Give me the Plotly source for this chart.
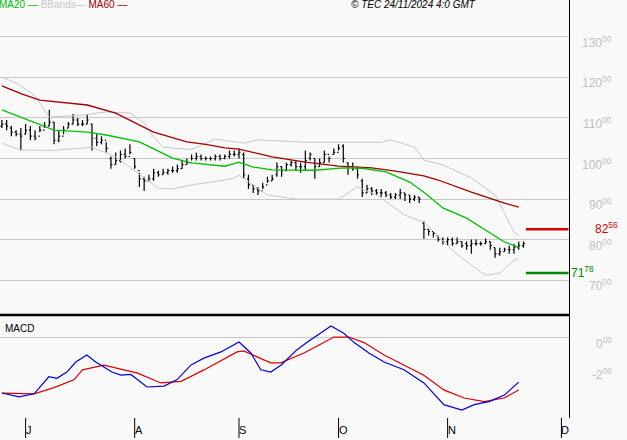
import plotly.graph_objects as go

opens = [108,108.5,107.5,106.5,106,106,107,105.5,105.5,107,
108,109,104.5,105.5,107.5,108.5,109.5,108.5,108.5,108.5,
105,104,104.5,100,98.5,99.5,101,100.5,100,97,
95,94.5,95,96.5,96,96.5,97,97,97.5,98.5,
99,100,100.5,100,100,100,100.5,100,100.5,101,
101,101,95,93.5,92.5,92,93.5,94.5,96,98,
97,98.5,99,98,98,100,100,98,99,101,
101,101.5,103,99,98,97.5,94.5,91.5,92.5,92,
91.5,91.5,91,90.5,91,91.5,91,90,90.5,84,
82.5,82,81,80,79.5,80,79,79.5,79,78.5,
79,79,79,79.5,78,76.5,77,77.5,77.5,78,78.5]
highs = [109.5,109.5,108,107,107.5,108.5,108,107,108,109,
112,109,107,108,109,111,110,109.5,111,108.5,
106,105.5,104,100.5,101.5,102,102.5,103.5,100,96.5,
95.5,96,97.5,97,97.5,97.5,98,98.5,99.5,100,
101,101.5,101,100.5,100.5,101,101,101,102,102,
102.5,101.5,96,93.5,93,94,95.5,96,99,98,
99,99.5,99.5,99,102,101.5,100,100,102,100.5,
102.5,103.5,103.5,99,99,98,95,93.5,93,92.5,
92.5,92,91.5,91.5,92.5,91.5,91,91,90.5,84.5,
82.5,82,81,80.5,80.5,80.5,80.5,79.5,79.5,80,
80,79.5,80.3,79.5,78,78,78,78.5,79,79.5,79.5]
lows = [107.5,107,105.5,105.5,102,106,104.5,104.5,106.5,107.5,
108,103.5,104,106,107.5,108.5,108,108,108.5,102,
103,103.5,101.5,97.5,98.5,99,100,101,97.5,93,
92,94.5,94.5,95.5,96,96,96.5,96.5,97.5,98.5,
99.5,99.5,99.5,99.5,99.5,99.5,99.5,99.8,100,100.5,
100,95,92.5,91.5,91,92.5,94,94.5,95.5,95.5,
97,98,97,96.5,97,99.5,95,98,99,99,
101,102,99,96,97,95,90.5,91.5,91,91,
90.5,90.5,90,90,90,89.5,89,89.5,89,80.2,
81,80.5,79.5,78.8,78.5,78.5,79,78,77.5,76.5,
78.5,78.5,79,77.5,75.5,76,77,76.5,76.5,77.5,78]
closes = [108.5,108,106.5,106,105.5,107,105.5,105,107,108,
109,104.5,105.5,107,108.5,109.5,108.5,108.5,109.5,105,
104,104.5,102.5,98.5,99.5,101,100.5,101.5,98,95,
94.5,95,96.5,96,96.5,97,97,97.5,98.5,99,
100,100.5,100,100,100,100.5,100,100.5,101,101,
101.5,96,93.5,92.5,92,93,94.5,95,98,97,
98.5,99,98,98,99.5,101,98,99,101,100,
101.5,102.5,100,98,97.5,96,91.5,92.5,92,91.5,
91.5,91,90.5,91,91.5,91,90,90.5,90,82.5,
82,81.5,80,79.5,80,79,79.5,78.5,78.5,79,
79,79,79.5,78.5,76.5,77,77.5,77.5,78,78.5,79]
days = list(range(len(closes)))

ma20_x = [0,8,11,18,22,29,36,40,47,50,53,57,66,72,76,81,86,89,93,98,102,106,109]
ma20_y = [112,108.3,107,106.5,105.8,104.1,100.1,98.9,98.1,99.1,97.9,97.2,97.1,97.7,97.6,96.7,94.2,91.7,87.8,85.3,82.3,79.4,78.1]
ma60_x = [0,4,8,18,24,32,39,43,47,50,57,64,71,78,83,89,92,99,106,109]
ma60_y = [117.9,116,114.4,113.2,111.2,106.5,104.1,103.5,102.6,102.3,100.4,99.1,98.1,97.7,96.9,95.7,94.7,91.7,89,88]
bbu_x = [0,3,7,10,17,22,27,30,32,34,40,45,51,54,64,73,80,82,87,89,93,99,104,106,108,109]
bbu_y = [120.1,118.6,115.5,110.2,110.7,111.5,111.2,108.8,105.3,102.8,102.2,104.8,103.8,104.6,104,104,104,104.6,102.8,99.6,98.4,95.2,91,86.5,81.8,81]
bbl_x = [0,4,11,19,24,30,33,36,40,47,49,50,56,62,71,75,79,85,89,95,99,102,105,108,109]
bbl_y = [103.8,102.1,102,102.8,100.4,95.4,92.7,92.5,93.5,94.7,95.2,95.9,91,90,90,93,91,86,84.3,77.4,73.7,71.2,71.7,74.9,75.4]
macd_x = [0,3.6,6.8,9.9,11.6,13.7,15.6,17.9,19.8,23.2,25.1,27.2,30.6,34.2,36.9,39.9,42.6,46.2,50,52.5,54.6,56.7,58.9,62.2,64.3,67.3,69.4,72.1,74.3,77.4,80.6,84.8,89,93.2,97,99.6,102.7,105.9,109]
macd_y = [-3.55,-3.8,-3.6,-2.5,-2.6,-2.2,-1.55,-1.1,-1.55,-2.2,-2.4,-2.35,-3.16,-3.1,-2.7,-1.74,-1.3,-0.9,-0.26,-0.97,-2.05,-2.2,-1.74,-0.77,-0.3,0.32,0.77,0.3,-0.3,-0.97,-1.55,-2.05,-2.9,-4.3,-4.65,-4.3,-4.1,-3.7,-2.85]
sig_x = [0,6.8,11,15.2,17,21.5,25.7,28.5,33.5,37.8,42.6,49.6,51,56.7,58.8,63.7,66.9,70,73.2,76.4,80.6,84.8,89,93.2,97.5,101.7,105.9,109]
sig_y = [-3.55,-3.6,-3.2,-2.7,-2.06,-1.75,-2.06,-2.25,-2.9,-2.8,-2.06,-0.9,-0.84,-1.6,-1.6,-0.97,-0.45,0.06,0.06,-0.3,-1.1,-1.75,-2.4,-3.35,-3.87,-4.1,-3.87,-3.35]

month_ticks = [5, 28, 50, 71, 94, 118]
month_labels = ["J", "A", "S", "O", "N", "D"]
price_ticks = [70, 80, 90, 100, 110, 120, 130]
macd_ticks = [0, -2]
level_hi = 82.56
level_lo = 71.78

XR = [-0.4, 119.6]
fig = go.Figure()
fig.add_trace(go.Scatter(x=bbu_x, y=bbu_y, mode="lines", line=dict(color="#c8c8c8", width=1), yaxis="y"))
fig.add_trace(go.Scatter(x=bbl_x, y=bbl_y, mode="lines", line=dict(color="#c8c8c8", width=1), yaxis="y"))
fig.add_trace(go.Scatter(x=ma60_x, y=ma60_y, mode="lines", line=dict(color="#a00000", width=1.3), yaxis="y"))
fig.add_trace(go.Scatter(x=ma20_x, y=ma20_y, mode="lines", line=dict(color="#00c000", width=1.3), yaxis="y"))
fig.add_trace(go.Ohlc(x=days, open=opens, high=highs, low=lows, close=closes, tickwidth=0.3,
                      increasing=dict(line=dict(color="black", width=1.2)),
                      decreasing=dict(line=dict(color="black", width=1.2)), yaxis="y"))
fig.add_trace(go.Scatter(x=[110.5, 119.5], y=[level_hi]*2, mode="lines", line=dict(color="#dd0000", width=2.5)))
fig.add_trace(go.Scatter(x=[110.5, 119.5], y=[level_lo]*2, mode="lines", line=dict(color="#008800", width=2.5)))
fig.add_trace(go.Scatter(x=sig_x, y=sig_y, mode="lines", line=dict(color="#dd0000", width=1.2), yaxis="y2"))
fig.add_trace(go.Scatter(x=macd_x, y=macd_y, mode="lines", line=dict(color="#0000dd", width=1.2), yaxis="y2"))

def fmt(v):
    s = f"{abs(v):.2f}"
    a, b = s.split(".")
    sign = "-" if v < 0 else ""
    return f"{sign}{a}<sup>{b}</sup>"

dom = 103/418
fig.update_layout(
    width=627, height=440, margin=dict(l=0, r=58, t=0, b=22, autoexpand=False),
    paper_bgcolor="#f9f9f9", plot_bgcolor="#f9f9f9", showlegend=False,
    xaxis=dict(range=XR, showgrid=False, zeroline=False, showticklabels=False, ticks="", automargin=False,
               showline=True, linecolor="black", linewidth=1, rangeslider=dict(visible=False)),
    yaxis=dict(domain=[dom, 1], range=[61.4, 139.1], side="right", tickvals=price_ticks, automargin=False,
               showticklabels=False, gridcolor="#c8c8c8", zeroline=False, showline=True,
               linecolor="black", linewidth=1, ticks=""),
    yaxis2=dict(domain=[0, dom], range=[-5.16, 1.48], side="right", tickvals=[0], automargin=False,
                showticklabels=False, gridcolor="#c8c8c8", zeroline=False, showline=True,
                linecolor="black", linewidth=1, ticks="", anchor="x"),
)
shapes = [dict(type="line", xref="paper", yref="paper", x0=0, x1=1, y0=dom, y1=dom,
               line=dict(color="black", width=2.5))]
ann = []
for t, l in zip(month_ticks, month_labels):
    shapes.append(dict(type="line", xref="x", yref="paper", x0=t, x1=t, y0=0, y1=-20/418,
                       line=dict(color="black", width=1)))
    ann.append(dict(x=t, y=-4/418, xref="x", yref="paper", text=l, showarrow=False, xshift=-2,
                    xanchor="left", yanchor="top", font=dict(size=11, color="black", family="Arial")))
for v in price_ticks:
    ann.append(dict(x=1, y=v, xref="paper", yref="y", text=fmt(v), showarrow=False, xanchor="right",
                    xshift=45, yshift=-5, font=dict(size=12, color="#c0c0c0", family="Arial")))
for v in macd_ticks:
    ann.append(dict(x=1, y=v, xref="paper", yref="y2", text=fmt(v), showarrow=False, xanchor="right",
                    xshift=45, yshift=-5, font=dict(size=12, color="#c0c0c0", family="Arial")))
fig.update_layout(shapes=shapes)
ann += [
    dict(x=0, y=1, xref="paper", yref="paper", xanchor="left", yanchor="top", showarrow=False, xshift=-3, yshift=3,
         text="<span style='color:#00c000'>MA20 —</span> <span style='color:#c8c8c8'>BBands—</span> <span style='color:#a00000'>MA60 —</span>",
         font=dict(size=10, family="Arial")),
    dict(x=478/569, y=1, xref="paper", yref="paper", xanchor="right", yanchor="top", showarrow=False, yshift=3,
         text="<i>© TEC 24/11/2024 4:0 GMT</i>", font=dict(size=10, color="black", family="Arial")),
    dict(x=0.005, y=(418-328)/418, xref="paper", yref="paper", xanchor="left", yanchor="middle", showarrow=False,
         text="MACD", font=dict(size=10, color="black", family="Arial")),
    dict(x=1, y=level_hi, xref="paper", yref="y", xanchor="right", xshift=51, yshift=1, showarrow=False,
         text=fmt(level_hi), font=dict(size=12, color="#dd0000", family="Arial")),
    dict(x=1, y=level_lo, xref="paper", yref="y", xanchor="left", xshift=0, yshift=1, showarrow=False,
         text=fmt(level_lo), font=dict(size=12, color="#008800", family="Arial")),
]
fig.update_layout(annotations=ann)
fig.write_html("out.html", config=dict(displayModeBar=False),
               post_script="document.body.style.margin='0';document.body.style.background='#f9f9f9';")
